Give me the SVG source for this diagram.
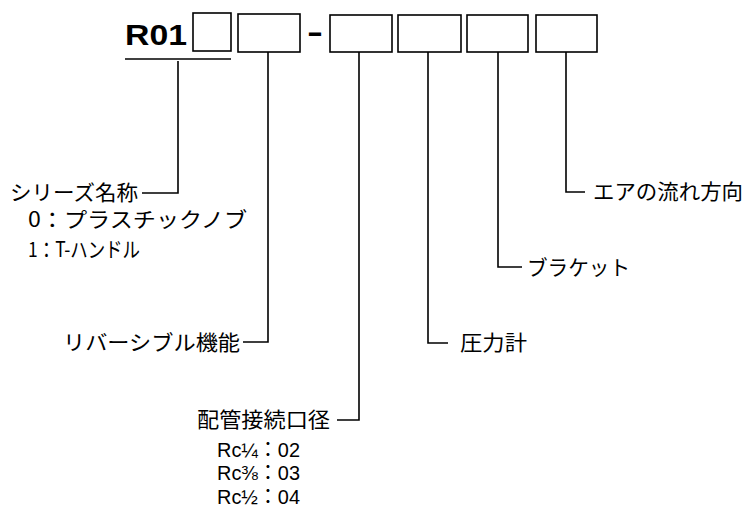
<svg xmlns="http://www.w3.org/2000/svg" width="753" height="511" viewBox="0 0 753 511">
<style>
.t{font-family:"Noto Sans CJK JP","Liberation Sans",sans-serif;font-size:21px;fill:#000}
.rc{font-family:"Liberation Sans","Noto Sans CJK JP",sans-serif;font-size:20px;fill:#000}
.box{fill:none;stroke:#000;stroke-width:1.6}
.ln{fill:none;stroke:#000;stroke-width:1.6}
.code{font-family:"Liberation Sans",Arial,sans-serif;font-weight:bold;font-size:29px;fill:#000}
</style>
<rect width="753" height="511" fill="#fff"/>
<g id="code">
<text class="code" x="125" y="45" textLength="62" lengthAdjust="spacingAndGlyphs">R01</text>
<line class="ln" x1="125" y1="59" x2="231" y2="59"/>
<text class="code" x="307" y="42" textLength="16" lengthAdjust="spacingAndGlyphs">-</text>
</g>
<g id="box1"><rect class="box" x="193" y="13" width="38" height="38"/></g>
<g id="box2"><rect class="box" x="238" y="14" width="62" height="38"/></g>
<g id="box3"><rect class="box" x="330" y="15" width="62" height="37"/></g>
<g id="box4"><rect class="box" x="398" y="15" width="63" height="37"/></g>
<g id="box5"><rect class="box" x="467" y="15" width="61" height="37"/></g>
<g id="box6"><rect class="box" x="536" y="15" width="61" height="37"/></g>
<g id="connectors">
<polyline class="ln" points="178,61 178,193 142,193"/>
<polyline class="ln" points="268,52 268,342 243,342"/>
<polyline class="ln" points="359,52 359,420 337,420"/>
<polyline class="ln" points="428,52 428,343 448,343"/>
<polyline class="ln" points="498,52 498,267 522,267"/>
<polyline class="ln" points="566,52 566,192 585,192"/>
</g>
<g id="series">
<text class="t" x="10" y="200" textLength="128" lengthAdjust="spacingAndGlyphs">シリーズ名称</text>
<text class="t" x="28" y="227" textLength="219" lengthAdjust="spacingAndGlyphs">0：プラスチックノブ</text>
<text class="t" x="28" y="257" textLength="112" lengthAdjust="spacingAndGlyphs">1：T-ハンドル</text>
</g>
<g id="reversible">
<text class="t" x="63" y="350" textLength="177" lengthAdjust="spacingAndGlyphs">リバーシブル機能</text>
</g>
<g id="pipe">
<text class="t" x="197" y="427" textLength="133" lengthAdjust="spacingAndGlyphs">配管接続口径</text>
<text class="rc" x="217" y="457" textLength="83" lengthAdjust="spacingAndGlyphs">Rc¼：02</text>
<text class="rc" x="217" y="480" textLength="83" lengthAdjust="spacingAndGlyphs">Rc⅜：03</text>
<text class="rc" x="217" y="504" textLength="83" lengthAdjust="spacingAndGlyphs">Rc½：04</text>
</g>
<g id="pressure">
<text class="t" x="460" y="350" textLength="67" lengthAdjust="spacingAndGlyphs">圧力計</text>
</g>
<g id="bracket">
<text class="t" x="527" y="275" textLength="103" lengthAdjust="spacingAndGlyphs">ブラケット</text>
</g>
<g id="airflow">
<text class="t" x="593" y="199" textLength="150" lengthAdjust="spacingAndGlyphs">エアの流れ方向</text>
</g>
</svg>
